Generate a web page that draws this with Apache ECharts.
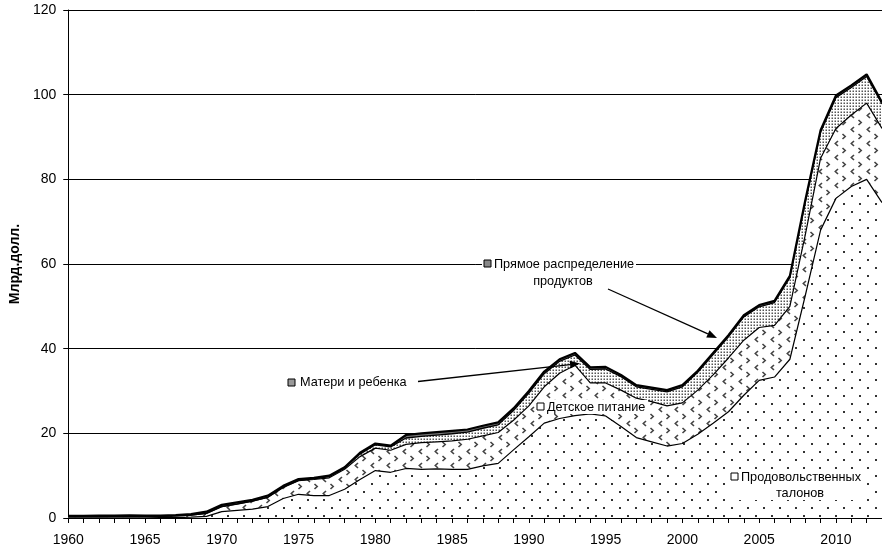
<!DOCTYPE html>
<html><head><meta charset="utf-8">
<script src="https://cdn.jsdelivr.net/npm/echarts@6/dist/echarts.min.js"></script>
<style>html,body{margin:0;padding:0;background:#fff}#c{width:882px;height:552px}</style>
</head><body><div id="c"></div>
<script>
const years = ['1960','1961','1962','1963','1964','1965','1966','1967','1968','1969',
 '1970','1971','1972','1973','1974','1975','1976','1977','1978','1979',
 '1980','1981','1982','1983','1984','1985','1986','1987','1988','1989',
 '1990','1991','1992','1993','1994','1995','1996','1997','1998','1999',
 '2000','2001','2002','2003','2004','2005','2006','2007','2008','2009',
 '2010','2011','2012','2013'];
const foodStamps = [0,0,0.02,0.04,0.05,0.05,0.1,0.1,0.2,0.4,
 1.5,1.8,2.1,2.7,4.6,5.6,5.3,5.3,6.8,9.1,
 11.2,10.8,11.7,11.5,11.6,11.5,11.5,12.3,12.9,16.1,
 19.2,22.4,23.5,24.2,24.6,24.1,21.6,19.0,18.0,17.0,
 17.6,19.8,22.4,25.1,29.0,32.5,33.3,37.5,52.5,68.0,
 75.5,78.3,80.0,74.5];
const childNutrition = [0.3,0.3,0.33,0.33,0.35,0.35,0.3,0.4,0.5,0.7,
 1.2,1.5,1.9,2.2,2.6,3.2,3.8,4.2,4.7,5.4,
 5.3,5.2,5.7,6.3,6.4,6.7,7.1,7.1,7.3,7.0,
 7.3,8.6,10.7,11.9,7.3,7.8,8.6,9.3,9.5,9.5,
 9.6,10.4,11.4,12.7,13.0,12.5,12.2,12.5,14.3,17.0,
 16.5,16.9,18.0,17.5];
const wic = [0,0,0,0,0,0,0,0,0,0,
 0,0,0,0,0.1,0.1,0.15,0.25,0.3,0.6,
 0.8,0.8,1.5,1.5,1.6,1.7,1.7,1.8,1.8,2.3,
 3.0,3.1,2.8,2.4,3.2,3.3,3.2,2.7,2.9,3.3,
 3.8,4.2,4.8,5.0,5.5,4.9,5.4,6.8,7.7,6.1,
 7.3,6.5,6.3,5.8];
const commodity = [0.2,0.2,0.2,0.2,0.2,0.15,0.15,0.2,0.2,0.4,
 0.4,0.4,0.3,0.4,0.3,0.3,0.25,0.25,0.2,0.3,
 0.3,0.3,0.7,0.7,0.7,0.7,0.6,0.6,0.6,0.5,
 0.5,0.5,0.5,0.5,0.5,0.5,0.4,0.4,0.4,0.4,
 0.4,0.4,0.4,0.4,0.4,0.4,0.4,0.4,0.5,0.5,
 0.5,0.5,0.5,0.4];
const seriesNames = ['Продовольственных талонов','Детское питание','Матери и ребенка','Прямое распределение продуктов'];
const yName = 'Млрд.долл.';

function makePattern(w, h, draw) {
  const c = document.createElement('canvas');
  c.width = w; c.height = h;
  const g = c.getContext('2d');
  g.fillStyle = '#fff'; g.fillRect(0, 0, w, h);
  draw(g);
  return c;
}
const dotsPat = makePattern(16, 16, g => {
  g.fillStyle = '#333';
  g.fillRect(3, 3, 2, 2); g.fillRect(11, 11, 2, 2);
});
const chevPat = makePattern(16, 14, g => {
  g.strokeStyle = '#444'; g.lineWidth = 1.6;
  g.beginPath(); g.moveTo(6, 1); g.lineTo(3.3, 3.5); g.lineTo(6, 6); g.stroke();
  g.beginPath(); g.moveTo(10.5, 8); g.lineTo(13.2, 10.5); g.lineTo(10.5, 13); g.stroke();
});
const densePat = makePattern(3, 3, g => {
  g.fillStyle = '#fff'; g.fillRect(0,0,3,3);
  g.fillStyle = '#555';
  g.fillRect(0.5, 0.5, 1.5, 1.5);
});

const chart = echarts.init(document.getElementById('c'));
const FONT = '"Liberation Sans", Arial, sans-serif';

function mkSeries(name, data, pat, lw) {
  return {
    name, type: 'line', stack: 'total', data,
    symbol: 'none', smooth: false,
    lineStyle: { color: '#000', width: lw },
    areaStyle: { color: pat, opacity: 1 },
    emphasis: { disabled: true },
    silent: true
  };
}

function arrow(x1, y1, x2, y2) {
  const dx = x2 - x1, dy = y2 - y1, L = Math.hypot(dx, dy);
  const ux = dx / L, uy = dy / L, hl = 10, hw = 4;
  const bx = x2 - ux * hl, by = y2 - uy * hl;
  return [
    { type: 'line', z: 100, shape: { x1, y1, x2: bx, y2: by }, style: { stroke: '#000', lineWidth: 1.3 } },
    { type: 'polygon', z: 100, shape: { points: [[x2, y2], [bx - uy * hw, by + ux * hw], [bx + uy * hw, by - ux * hw]] }, style: { fill: '#000' } }
  ];
}
function marker(x, y, fill) {
  return { type: 'rect', z: 101, shape: { x, y, width: 7, height: 7 }, style: { fill, stroke: '#000', lineWidth: 1 } };
}
function label(text, x, y, align) {
  return { type: 'text', z: 102, x, y, style: { text, font: '12.7px ' + FONT, fill: '#000', align: align || 'left', verticalAlign: 'middle' } };
}
function whiteBox(x, y, w, h) {
  return { type: 'rect', z: 99, shape: { x, y, width: w, height: h }, style: { fill: '#fff' } };
}

const graphics = [].concat(
  whiteBox(482, 257, 154, 14), whiteBox(520, 273, 86, 15),
  marker(484, 260, '#888'),
  label('Прямое распределение', 494, 264),
  label('продуктов', 563, 281, 'center'),
  arrow(608, 289, 717, 338),
  marker(288, 379, '#999'),
  label('Матери и ребенка', 300, 382),
  arrow(418, 381.5, 580, 363.5),
  whiteBox(535, 400, 113, 14),
  marker(537, 403, '#fff'),
  label('Детское питание', 547, 407),
  whiteBox(729, 469, 137, 31),
  marker(731, 473, '#fff'),
  label('Продовольственных', 741, 477),
  label('талонов', 800, 493, 'center')
);

chart.setOption({
  animation: false,
  backgroundColor: '#fff',
  grid: { left: 66, right: -5, top: 10, bottom: 34, containLabel: false },
  xAxis: {
    type: 'category', data: years, boundaryGap: false,
    axisLine: { lineStyle: { color: '#000', width: 1 } },
    axisTick: { interval: 0, length: 5, lineStyle: { color: '#000' } },
    axisLabel: { interval: (i, v) => Number(v) % 5 === 0, color: '#000', fontSize: 14, fontFamily: FONT, margin: 15 },
    splitLine: { show: false }
  },
  yAxis: {
    type: 'value', min: 0, max: 120, interval: 20,
    name: yName, nameLocation: 'middle', nameGap: 40, nameRotate: 90,
    nameTextStyle: { fontSize: 14, fontWeight: 'bold', color: '#000', fontFamily: FONT },
    axisLine: { show: true, lineStyle: { color: '#000' } },
    axisTick: { show: true, length: 5, lineStyle: { color: '#000' } },
    axisLabel: { color: '#000', fontSize: 14, fontFamily: FONT, margin: 12 },
    splitLine: { show: true, lineStyle: { color: '#000', width: 1 } }
  },
  series: [
    mkSeries(seriesNames[0], foodStamps, { image: dotsPat, repeat: 'repeat' }, 1.2),
    mkSeries(seriesNames[1], childNutrition, { image: chevPat, repeat: 'repeat' }, 1.2),
    mkSeries(seriesNames[2], wic, { image: densePat, repeat: 'repeat' }, 1.3),
    mkSeries(seriesNames[3], commodity, '#777', 2.2)
  ],
  graphic: graphics
});
</script></body></html>
